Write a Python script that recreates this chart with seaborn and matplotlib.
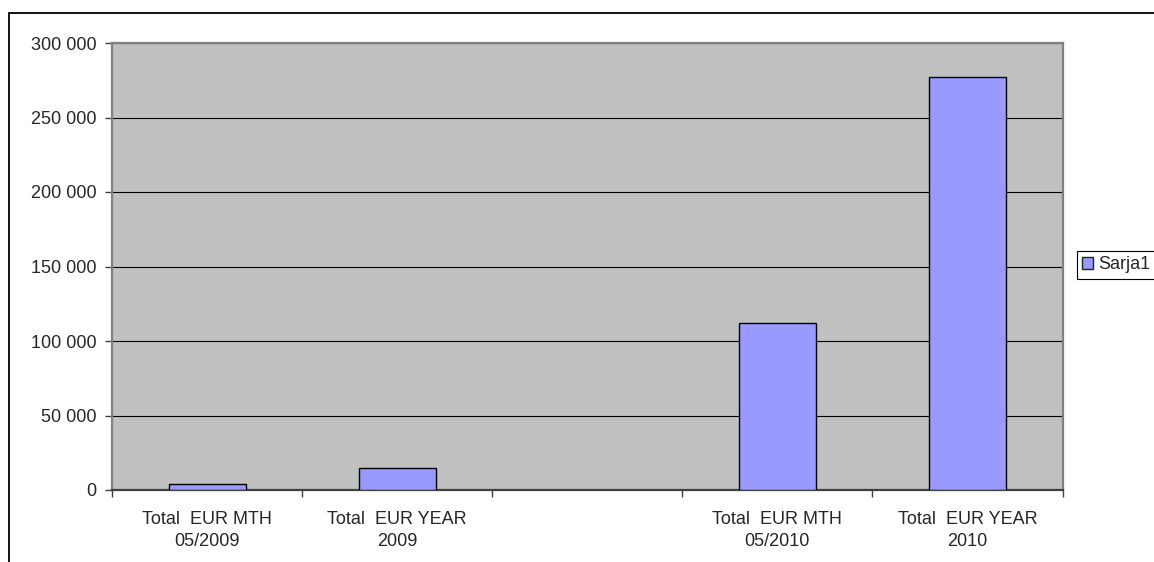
import numpy as np
import pandas as pd
import matplotlib
matplotlib.use("Agg")
import matplotlib.pyplot as plt
from matplotlib.lines import Line2D
from matplotlib.patches import Patch
from matplotlib.ticker import FuncFormatter, FixedLocator
import seaborn as sns

categories = [
    "Total  EUR MTH\n05/2009",
    "Total  EUR YEAR\n2009",
    " ",
    "Total  EUR MTH\n05/2010",
    "Total  EUR YEAR\n2010",
]
values = [4000, 14600, np.nan, 112300, 277000]
series_name = "Sarja1"
y_ticks = [0, 50000, 100000, 150000, 200000, 250000, 300000]

sns.set_style("white")
plt.rcParams["font.family"] = ["Liberation Sans", "DejaVu Sans"]
plt.rcParams["font.size"] = 13

df = pd.DataFrame({"category": categories, "value": values})

fig = plt.figure(figsize=(11.54, 5.62), dpi=100)
ax = fig.add_axes([112 / 1154, 1 - 490 / 562, (1062.5 - 112) / 1154, (490 - 43) / 562])
ax.set_facecolor("#C0C0C0")

sns.barplot(
    data=df, x="category", y="value", order=categories,
    color="#9999FF", saturation=1, width=0.405,
    edgecolor="black", linewidth=1.0, ax=ax, zorder=3,
)

ax.set_ylim(0, 300000)
ax.set_xlim(-0.5, len(categories) - 0.5)
ax.yaxis.set_major_locator(FixedLocator(y_ticks))
ax.yaxis.set_major_formatter(FuncFormatter(lambda v, _: f"{int(v):,}".replace(",", " ")))
ax.grid(axis="y", color="black", linewidth=0.8, zorder=1)
ax.set_axisbelow(True)

# category boundaries carry the tick marks, centres carry the labels
ax.xaxis.set_major_locator(FixedLocator(np.arange(-0.5, len(categories), 1.0)))
ax.xaxis.set_major_formatter(FuncFormatter(lambda v, _: ""))
ax.xaxis.set_minor_locator(FixedLocator(np.arange(len(categories))))
ax.set_xticklabels(categories, minor=True)
ax.tick_params(axis="x", which="major", direction="out", length=5, width=1, color="#404040", bottom=True)
ax.tick_params(axis="x", which="minor", length=0, pad=15, labelsize=13)
ax.tick_params(axis="y", direction="out", length=5, width=1, color="#404040", left=True, labelsize=13, pad=6)
for lbl in ax.get_xticklabels(minor=True):
    lbl.set_linespacing(1.42)

ax.set_xlabel("")
ax.set_ylabel("")
for side in ["left", "top", "right"]:
    ax.spines[side].set_color("#808080")
    ax.spines[side].set_linewidth(1.6)
ax.spines["bottom"].set_color("#404040")
ax.spines["bottom"].set_linewidth(1.6)

handle = Patch(facecolor="#9999FF", edgecolor="#202020", linewidth=1.0)
leg = fig.legend(
    [handle], [series_name], loc="upper left",
    bbox_to_anchor=(1077 / 1154, 1 - 251 / 562),
    frameon=True, fancybox=False, framealpha=1, edgecolor="black",
    fontsize=13, handlelength=0.6, handleheight=0.6, handletextpad=0.3,
    borderpad=0.3, borderaxespad=0,
)
leg.get_frame().set_linewidth(0.8)

# outer chart-area border along the top and left
fig.add_artist(Line2D([9 / 1154, 1], [1 - 13 / 562, 1 - 13 / 562], color="black", linewidth=1.3, transform=fig.transFigure))
fig.add_artist(Line2D([9 / 1154, 9 / 1154], [0, 1 - 13 / 562], color="black", linewidth=1.3, transform=fig.transFigure))

fig.savefig("out.png", dpi=100)
